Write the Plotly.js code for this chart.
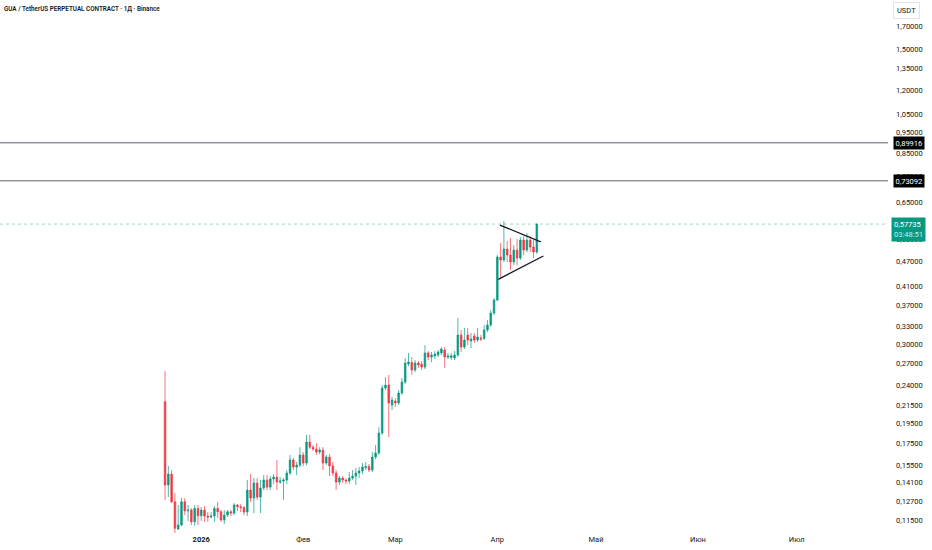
<!DOCTYPE html>
<html>
<head>
<meta charset="utf-8">
<script src="https://cdn.plot.ly/plotly-3.0.1.min.js"></script>
<style>
html,body{margin:0;padding:0;background:#fff;}
#chart{width:932px;height:550px;}
</style>
</head>
<body>
<div id="chart"></div>
<script>
// ---- data (daily candles starting 2025-12-21) ----
const startDate = '2025-12-21';
const open = [0.2192,0.1392,0.1477,0.1270,0.1095,0.1119,0.1270,0.1209,0.1214,0.1139,
0.1225,0.1177,0.1214,0.1175,0.1169,0.1175,0.1225,0.1203,0.1150,0.1181,
0.1203,0.1194,0.1248,0.1236,0.1231,0.1201,0.1354,0.1296,0.1407,0.1303,
0.1369,0.1430,0.1376,0.1438,0.1453,0.1414,0.1422,0.1430,0.1486,0.1595,
0.1535,0.1552,0.1639,0.1569,0.1759,0.1711,0.1693,0.1666,0.1684,0.1569,
0.1621,0.1544,0.1486,0.1414,0.1446,0.1430,0.1422,0.1446,0.1461,0.1486,
0.1502,0.1530,0.1540,0.1510,0.1621,0.1657,0.1848,0.2361,0.2400,0.2152,
0.2200,0.2176,0.2298,0.2439,0.2692,0.2715,0.2605,0.2706,0.2690,0.2648,
0.2858,0.2796,0.2811,0.2827,0.2858,0.2905,0.2796,0.2790,0.2781,0.2827,
0.3153,0.2953,0.3153,0.3051,0.3136,0.3068,0.3102,0.3095,0.3240,0.3329,
0.3554,0.3815,0.4823,0.4745,0.5037,0.4876,0.4694,0.5011,0.4797,0.5291,
0.5011,0.5291,0.5093,0.4957];
const high = [0.2591,0.1544,0.1510,0.1332,0.1248,0.1298,0.1296,0.1248,0.1227,0.1248,
0.1248,0.1234,0.1241,0.1201,0.1201,0.1241,0.1268,0.1214,0.1214,0.1214,
0.1214,0.1261,0.1254,0.1254,0.1241,0.1430,0.1477,0.1446,0.1446,0.1430,
0.1469,0.1469,0.1461,0.1477,0.1595,0.1453,0.1446,0.1510,0.1639,0.1612,
0.1578,0.1711,0.1666,0.1828,0.1828,0.1730,0.1749,0.1711,0.1711,0.1639,
0.1648,0.1578,0.1510,0.1461,0.1461,0.1446,0.1494,0.1510,0.1527,0.1535,
0.1569,0.1578,0.1561,0.1666,0.1730,0.1909,0.2400,0.2507,0.2535,0.2249,
0.2236,0.2336,0.2494,0.2781,0.2858,0.2796,0.2751,0.2736,0.2736,0.2985,
0.2889,0.2873,0.2889,0.2905,0.2953,0.2953,0.2858,0.2858,0.2889,0.3459,
0.3240,0.3275,0.3275,0.3187,0.3187,0.3275,0.3153,0.3329,0.3421,0.3613,
0.3857,0.4876,0.5205,0.5869,0.5262,0.5349,0.5149,0.5320,0.5379,0.5408,
0.5497,0.5408,0.5291,0.5790];
const low = [0.1282,0.1303,0.1261,0.1071,0.1089,0.1113,0.1181,0.1144,0.1119,0.1113,
0.1119,0.1144,0.1138,0.1139,0.1162,0.1138,0.1162,0.1138,0.1125,0.1169,
0.1175,0.1181,0.1207,0.1201,0.1181,0.1175,0.1268,0.1194,0.1282,0.1194,
0.1354,0.1354,0.1354,0.1399,0.1354,0.1399,0.1282,0.1399,0.1469,0.1510,
0.1469,0.1535,0.1544,0.1552,0.1693,0.1675,0.1639,0.1648,0.1510,0.1552,
0.1461,0.1461,0.1354,0.1392,0.1407,0.1399,0.1399,0.1430,0.1392,0.1446,
0.1477,0.1510,0.1494,0.1494,0.1603,0.1639,0.1828,0.2336,0.1808,0.2094,
0.2129,0.2152,0.2273,0.2413,0.2662,0.2535,0.2577,0.2634,0.2605,0.2619,
0.2751,0.2721,0.2766,0.2796,0.2827,0.2634,0.2766,0.2751,0.2751,0.2796,
0.2873,0.2921,0.2985,0.2937,0.3018,0.3035,0.3051,0.3068,0.3205,0.3293,
0.3516,0.3794,0.4301,0.4694,0.4694,0.4493,0.4617,0.4617,0.4745,0.4876,
0.4957,0.4957,0.4797,0.4903];
const close = [0.1392,0.1477,0.1270,0.1099,0.1119,0.1270,0.1209,0.1214,0.1139,0.1225,
0.1177,0.1214,0.1175,0.1169,0.1175,0.1225,0.1203,0.1150,0.1181,0.1203,
0.1194,0.1248,0.1236,0.1231,0.1201,0.1354,0.1296,0.1407,0.1303,0.1369,
0.1430,0.1376,0.1438,0.1453,0.1414,0.1422,0.1430,0.1486,0.1595,0.1535,
0.1552,0.1639,0.1569,0.1759,0.1711,0.1693,0.1666,0.1684,0.1569,0.1621,
0.1544,0.1486,0.1414,0.1446,0.1430,0.1422,0.1446,0.1461,0.1486,0.1502,
0.1535,0.1540,0.1510,0.1621,0.1657,0.1848,0.2361,0.2400,0.2176,0.2212,
0.2176,0.2298,0.2439,0.2706,0.2721,0.2605,0.2706,0.2677,0.2648,0.2858,
0.2796,0.2827,0.2842,0.2873,0.2921,0.2796,0.2811,0.2815,0.2827,0.3153,
0.2953,0.3068,0.3068,0.3085,0.3068,0.3119,0.3085,0.3240,0.3329,0.3554,
0.3815,0.4823,0.4745,0.5037,0.4876,0.4694,0.5011,0.4797,0.5291,0.5011,
0.5291,0.5093,0.4957,0.57735];

// horizontal levels and last price
const levelPrices = [0.89916, 0.73092];
const levelLabels = ['0,89916', '0,73092'];
const lastPrice = 0.57735;
const lastPriceLabel = '0,57735';
const countdown = '03:48:51';

// triangle trend lines
const upperLineX = ['2026-04-01 19:00', '2026-04-14 05:00'];
const upperLineY = [0.5742, 0.5242];
const lowerLineX = ['2026-04-01 07:00', '2026-04-15 00:00'];
const lowerLineY = [0.4271, 0.4850];

// axes
const xRange = ['2025-10-31 20:00', '2026-07-28 18:00'];
const yRange = [0.10713, 1.959];
const xTickVals = ['2026-01-01','2026-02-01','2026-03-01','2026-04-01','2026-05-01','2026-06-01','2026-07-01'];
const xTickText = ['<b>2026</b>','Фев','Мар','Апр','Май','Июн','Июл'];
const yTickVals = [1.7,1.5,1.35,1.2,1.05,0.95,0.85,0.75,0.65,0.59,0.53,0.47,0.41,0.37,0.33,0.30,0.27,0.24,0.215,0.195,0.175,0.155,0.141,0.127,0.115];

const titleText = 'GUA / TetherUS PERPETUAL CONTRACT · 1Д · Binance';
const currency = 'USDT';

// ---- build ----
const dates = [];
const d0 = new Date(startDate + 'T00:00:00Z');
for (let i = 0; i < open.length; i++) {
  const d = new Date(d0.getTime() + i * 86400000);
  dates.push(d.toISOString().slice(0, 10));
}

const GREEN = '#089981', RED = '#F23645';
const FONT = 'Roboto, "Liberation Sans", Arial, sans-serif';

const traces = [];
levelPrices.forEach(p => {
  traces.push({type:'scatter', mode:'lines', x:xRange, y:[p,p],
    line:{color:'#5d606b', width:1}, hoverinfo:'skip', showlegend:false});
});
traces.push({type:'scatter', mode:'lines', x:xRange, y:[lastPrice,lastPrice],
  line:{color:'rgba(8,153,129,0.4)', width:1, dash:'dot'}, hoverinfo:'skip', showlegend:false});
traces.push({
  type:'candlestick', x:dates, open:open, high:high, low:low, close:close,
  increasing:{line:{color:GREEN, width:0.7}, fillcolor:GREEN},
  decreasing:{line:{color:RED, width:0.7}, fillcolor:RED},
  whiskerwidth:0, hoverinfo:'skip', showlegend:false
});
traces.push({type:'scatter', mode:'lines', x:upperLineX, y:upperLineY,
  line:{color:'#131722', width:1.3}, hoverinfo:'skip', showlegend:false});
traces.push({type:'scatter', mode:'lines', x:lowerLineX, y:lowerLineY,
  line:{color:'#131722', width:1.3}, hoverinfo:'skip', showlegend:false});

const annotations = [];
annotations.push({xref:'paper', yref:'paper', x:0, y:1, xanchor:'left', yanchor:'top',
  xshift:2, yshift:-3, text:titleText, showarrow:false,
  font:{family:FONT, size:6.3, weight:600, color:'#131722'}});
annotations.push({xref:'paper', yref:'paper', x:1, y:1, xanchor:'left', yanchor:'top',
  xshift:5, yshift:-2, text:currency, showarrow:false, bgcolor:'#ffffff',
  bordercolor:'#e0e3eb', borderwidth:1, borderpad:3,
  font:{family:FONT, size:7.5, color:'#131722'}});
levelPrices.forEach((p, k) => {
  annotations.push({xref:'paper', yref:'y', x:1, y:Math.log10(p), xanchor:'left', yanchor:'middle',
    xshift:5, text:levelLabels[k], showarrow:false, bgcolor:'#000000', borderpad:1.5,
    font:{family:FONT, size:7.5, color:'#ffffff'}});
});
annotations.push({xref:'paper', yref:'y', x:1, y:Math.log10(lastPrice), xanchor:'left', yanchor:'top',
  xshift:3, yshift:7, text:lastPriceLabel + '<br><span style="color:#c8ece5">' + countdown + '</span>',
  showarrow:false, bgcolor:GREEN, borderpad:2, align:'left',
  font:{family:FONT, size:7.5, color:'#ffffff'}});

const layout = {
  width:932, height:550,
  margin:{l:0, r:44, t:0, b:17},
  paper_bgcolor:'#ffffff', plot_bgcolor:'#ffffff',
  separators:', ',
  showlegend:false,
  font:{family:FONT, size:7.5, color:'#131722'},
  xaxis:{type:'date', range:xRange, tickvals:xTickVals, ticktext:xTickText,
    showgrid:false, zeroline:false, showline:false, ticks:'',
    rangeslider:{visible:false}, fixedrange:true,
    tickfont:{family:FONT, size:7.5, color:'#131722'}},
  yaxis:{type:'log', side:'right', range:[Math.log10(yRange[0]), Math.log10(yRange[1])],
    tickvals:yTickVals, tickformat:'.5f', showgrid:false, zeroline:false, showline:false,
    ticks:'', ticklabelstandoff:7, fixedrange:true,
    tickfont:{family:FONT, size:7.5, color:'#131722'}},
  annotations:annotations
};

Plotly.newPlot('chart', traces, layout, {staticPlot:true, displayModeBar:false});
</script>
</body>
</html>
